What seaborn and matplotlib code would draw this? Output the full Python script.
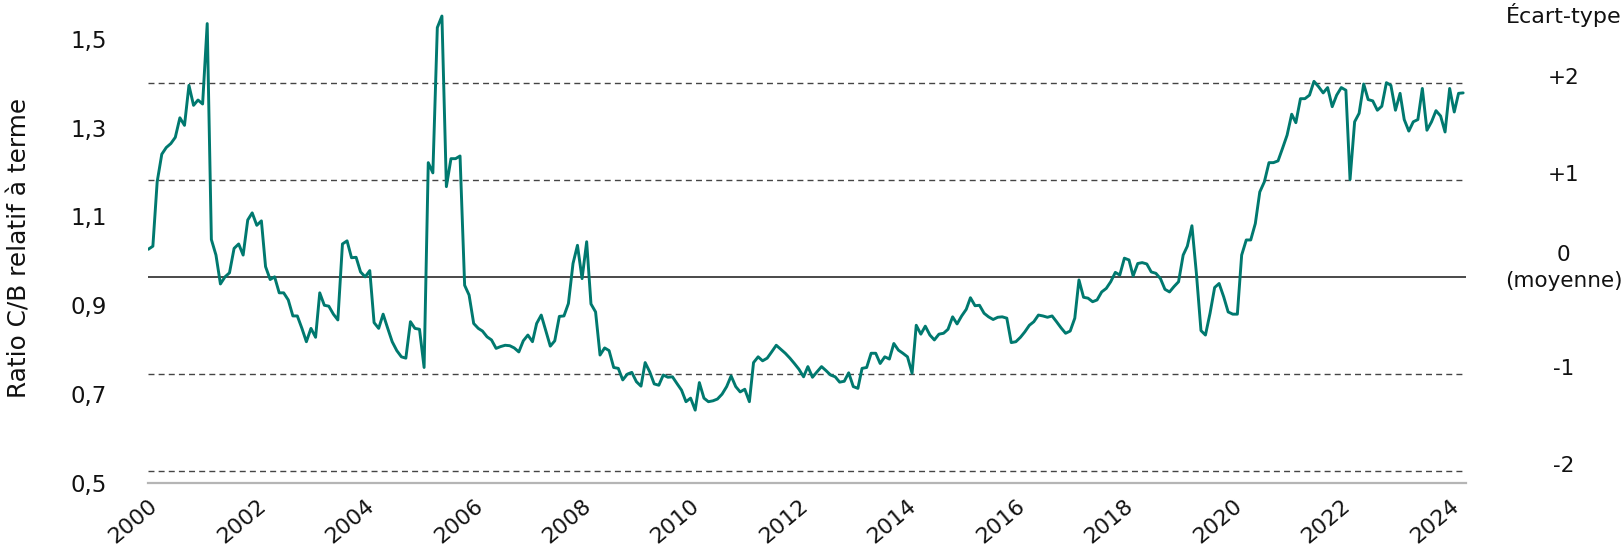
import numpy as np
import pandas as pd
import matplotlib
matplotlib.use("Agg")
import matplotlib.pyplot as plt
import matplotlib.transforms as mtransforms
import seaborn as sns

# ---------------- data (monthly, Jan 2000 -> Apr 2024) ----------------
ratio_2000 = [1.026, 1.033, 1.178, 1.240, 1.255, 1.264, 1.278, 1.322, 1.305, 1.395, 1.350, 1.362]
ratio_2001 = [1.353, 1.534, 1.048, 1.013, 0.948, 0.964, 0.973, 1.028, 1.038, 1.013, 1.092, 1.108]
ratio_2002 = [1.080, 1.090, 0.987, 0.958, 0.964, 0.928, 0.928, 0.912, 0.876, 0.876, 0.848, 0.818]
ratio_2003 = [0.848, 0.828, 0.928, 0.900, 0.898, 0.880, 0.867, 1.038, 1.045, 1.007, 1.008, 0.975]
ratio_2004 = [0.964, 0.978, 0.861, 0.848, 0.880, 0.848, 0.818, 0.798, 0.784, 0.781, 0.863, 0.848]
ratio_2005 = [0.846, 0.760, 1.221, 1.198, 1.525, 1.551, 1.167, 1.230, 1.230, 1.236, 0.945, 0.923]
ratio_2006 = [0.859, 0.848, 0.842, 0.829, 0.822, 0.803, 0.807, 0.810, 0.809, 0.804, 0.795, 0.820]
ratio_2007 = [0.833, 0.818, 0.859, 0.878, 0.844, 0.808, 0.820, 0.875, 0.876, 0.904, 0.994, 1.035]
ratio_2008 = [0.960, 1.043, 0.903, 0.885, 0.788, 0.804, 0.798, 0.760, 0.758, 0.732, 0.745, 0.749]
ratio_2009 = [0.728, 0.718, 0.771, 0.750, 0.723, 0.720, 0.743, 0.738, 0.739, 0.724, 0.709, 0.683]
ratio_2010 = [0.691, 0.664, 0.726, 0.691, 0.683, 0.685, 0.689, 0.700, 0.717, 0.741, 0.717, 0.705]
ratio_2011 = [0.711, 0.683, 0.771, 0.784, 0.775, 0.781, 0.795, 0.810, 0.801, 0.792, 0.781, 0.769]
ratio_2012 = [0.756, 0.739, 0.762, 0.738, 0.750, 0.762, 0.753, 0.743, 0.739, 0.727, 0.729, 0.748]
ratio_2013 = [0.717, 0.713, 0.758, 0.760, 0.792, 0.792, 0.769, 0.784, 0.779, 0.814, 0.799, 0.792]
ratio_2014 = [0.784, 0.747, 0.855, 0.835, 0.853, 0.833, 0.822, 0.835, 0.837, 0.846, 0.874, 0.858]
ratio_2015 = [0.876, 0.891, 0.917, 0.899, 0.900, 0.882, 0.874, 0.868, 0.873, 0.874, 0.871, 0.816]
ratio_2016 = [0.818, 0.828, 0.840, 0.855, 0.863, 0.878, 0.876, 0.873, 0.876, 0.863, 0.849, 0.837]
ratio_2017 = [0.842, 0.871, 0.957, 0.918, 0.916, 0.908, 0.912, 0.930, 0.938, 0.953, 0.974, 0.968]
ratio_2018 = [1.006, 1.002, 0.966, 0.994, 0.996, 0.993, 0.975, 0.972, 0.960, 0.936, 0.930, 0.942]
ratio_2019 = [0.953, 1.013, 1.033, 1.079, 0.972, 0.843, 0.833, 0.882, 0.940, 0.949, 0.919, 0.885]
ratio_2020 = [0.880, 0.880, 1.013, 1.047, 1.047, 1.084, 1.155, 1.178, 1.221, 1.221, 1.225, 1.253]
ratio_2021 = [1.283, 1.330, 1.311, 1.365, 1.365, 1.373, 1.404, 1.392, 1.378, 1.390, 1.347, 1.373]
ratio_2022 = [1.390, 1.384, 1.183, 1.313, 1.332, 1.398, 1.363, 1.360, 1.339, 1.348, 1.401, 1.395]
ratio_2023 = [1.339, 1.377, 1.318, 1.292, 1.313, 1.318, 1.388, 1.294, 1.313, 1.338, 1.326, 1.290]
ratio_2024 = [1.388, 1.335, 1.377, 1.378]

ratio = (ratio_2000 + ratio_2001 + ratio_2002 + ratio_2003 + ratio_2004 + ratio_2005 +
         ratio_2006 + ratio_2007 + ratio_2008 + ratio_2009 + ratio_2010 + ratio_2011 +
         ratio_2012 + ratio_2013 + ratio_2014 + ratio_2015 + ratio_2016 + ratio_2017 +
         ratio_2018 + ratio_2019 + ratio_2020 + ratio_2021 + ratio_2022 + ratio_2023 +
         ratio_2024)
dates = pd.date_range("2000-01-01", periods=len(ratio), freq="MS")

mean_level = 0.964
std_dev = 0.218
sd_multiples = [2, 1, -1, -2]
sd_labels = ["+2", "+1", "-1", "-2"]
ytick_values = [0.5, 0.7, 0.9, 1.1, 1.3, 1.5]
ytick_labels = ["0,5", "0,7", "0,9", "1,1", "1,3", "1,5"]
xtick_years = list(range(2000, 2025, 2))

# ---------------- style ----------------
sns.set_theme(style="white")
plt.rcParams["font.family"] = ["DejaVu Sans"]
TEAL = "#00796F"

fig = plt.figure(figsize=(16.24, 5.47), dpi=100)
ax = fig.add_axes([0.0913, 0.117, 0.8114, 0.861])

df = pd.DataFrame({"date": dates, "ratio": ratio})
sns.lineplot(data=df, x="date", y="ratio", ax=ax, color=TEAL, linewidth=2.1, zorder=3)

for k in sd_multiples:
    ax.axhline(mean_level + k * std_dev, color="#444444", linewidth=1.0,
               linestyle=(0, (4.3, 3.0)), zorder=1)
ax.axhline(mean_level, color="#2a2a2a", linewidth=1.2, zorder=2)

ax.set_ylim(0.5, 1.56)
ax.set_xlim(pd.Timestamp("2000-01-01"), pd.Timestamp("2024-04-20"))

ax.set_yticks(ytick_values)
ax.set_yticklabels(ytick_labels, fontsize=16.5, color="#111111")
ax.set_xticks([pd.Timestamp(f"{y}-01-01") for y in xtick_years])
ax.set_xticklabels([str(y) for y in xtick_years], fontsize=15.8, color="#111111",
                   rotation=40, ha="right", rotation_mode="anchor")
ax.tick_params(axis="y", length=0, pad=30)
ax.tick_params(axis="x", length=0, pad=9)

ax.set_xlabel("")
ax.set_ylabel("Ratio C/B relatif à terme", fontsize=17.8, color="#111111")
ax.yaxis.label.set_verticalalignment("center")
ax.yaxis.set_label_coords(-0.098, 0.5)

for side in ["top", "right", "left"]:
    ax.spines[side].set_visible(False)
ax.spines["bottom"].set_color("#b5b5b5")
ax.spines["bottom"].set_linewidth(1.6)
ax.grid(False)

# right-hand standard-deviation labels
trans = mtransforms.blended_transform_factory(ax.transAxes, ax.transData)
label_x = 1.0740
px = 1.0 / 444.5
RFS = 15.5
for k, lab in zip(sd_multiples, sd_labels):
    ax.text(label_x, mean_level + k * std_dev + 5 * px, lab, transform=trans,
            ha="center", va="center", fontsize=RFS, color="#111111", clip_on=False)
ax.text(label_x, mean_level + 22 * px, "0", transform=trans,
        ha="center", va="center", fontsize=RFS, color="#111111", clip_on=False)
ax.text(label_x, mean_level - 4 * px, "(moyenne)", transform=trans,
        ha="center", va="center", fontsize=RFS, color="#111111", clip_on=False)
ax.text(1.1180, 1.554, "Écart-type", transform=trans,
        ha="right", va="center", fontsize=16.0, color="#111111", clip_on=False)

fig.savefig("out.png", dpi=100)
